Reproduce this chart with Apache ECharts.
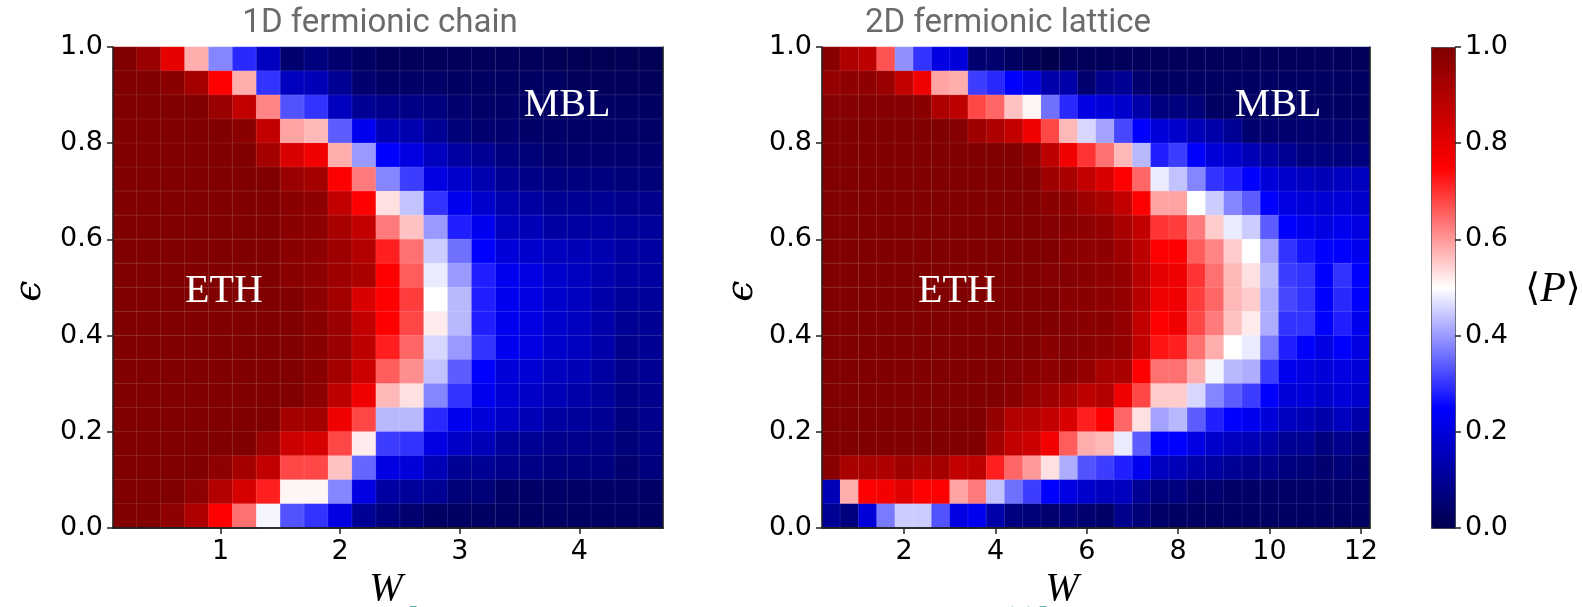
<!DOCTYPE html>
<html><head><meta charset="utf-8">
<script src="https://cdn.jsdelivr.net/npm/echarts@6/dist/echarts.min.js"></script>
<style>html,body{margin:0;padding:0;background:#fff}#c{width:1582px;height:607px}</style>
</head><body><div id="c"></div>
<script>
// ---------- DATA ----------
// disorder strength W (cell centres)
const W1 = [0.2,0.4,0.6,0.8,1.0,1.2,1.4,1.6,1.8,2.0,2.2,2.4,2.6,2.8,3.0,3.2,3.4,3.6,3.8,4.0,4.2,4.4,4.6];
const W2 = [0.4,0.8,1.2,1.6,2.0,2.4,2.8,3.2,3.6,4.0,4.4,4.8,5.2,5.6,6.0,6.4,6.8,7.2,7.6,8.0,8.4,8.8,9.2,9.6,10.0,10.4,10.8,11.2,11.6,12.0];
// energy density epsilon (cell centres, bottom -> top)
const EPS = [0.025,0.075,0.125,0.175,0.225,0.275,0.325,0.375,0.425,0.475,0.525,0.575,0.625,0.675,0.725,0.775,0.825,0.875,0.925,0.975];
// tick labels
const wTicks1 = [1,2,3,4];
const wTicks2 = [2,4,6,8,10,12];
const epsTicks = [0,0.2,0.4,0.6,0.8,1.0];
const cbTicks = [0,0.2,0.4,0.6,0.8,1.0];
// <P> for 1D chain, rows listed from top (eps=0.975) to bottom (eps=0.025)
const P1 = [
[1.00,0.95,0.80,0.58,0.38,0.29,0.16,0.05,0.07,0.05,0.03,0.02,0.02,0.02,0.02,0.02,0.02,0.02,0.01,0.01,0.01,0.01,0.01],
[1.00,1.00,0.98,0.93,0.75,0.58,0.30,0.16,0.15,0.10,0.05,0.04,0.04,0.04,0.03,0.03,0.03,0.03,0.03,0.02,0.02,0.02,0.02],
[1.00,1.00,1.00,1.00,0.95,0.87,0.62,0.33,0.30,0.16,0.10,0.09,0.08,0.07,0.05,0.04,0.04,0.03,0.03,0.03,0.03,0.03,0.03],
[1.00,1.00,1.00,1.00,1.00,0.98,0.87,0.59,0.57,0.34,0.23,0.15,0.14,0.10,0.06,0.05,0.05,0.04,0.04,0.04,0.04,0.04,0.04],
[1.00,1.00,1.00,1.00,1.00,1.00,0.93,0.82,0.78,0.58,0.40,0.25,0.21,0.16,0.12,0.10,0.07,0.06,0.05,0.05,0.05,0.05,0.05],
[1.00,1.00,1.00,1.00,1.00,1.00,1.00,0.95,0.93,0.75,0.63,0.38,0.31,0.21,0.18,0.14,0.10,0.08,0.07,0.07,0.07,0.06,0.06],
[1.00,1.00,1.00,1.00,1.00,1.00,1.00,0.98,0.97,0.87,0.75,0.53,0.44,0.30,0.23,0.18,0.14,0.12,0.10,0.10,0.10,0.09,0.09],
[1.00,1.00,1.00,1.00,1.00,1.00,1.00,0.98,0.97,0.92,0.87,0.63,0.56,0.40,0.28,0.23,0.16,0.15,0.12,0.12,0.12,0.11,0.11],
[1.00,1.00,1.00,1.00,1.00,1.00,1.00,0.98,0.97,0.94,0.90,0.72,0.64,0.45,0.36,0.25,0.20,0.18,0.16,0.15,0.14,0.12,0.12],
[1.00,1.00,1.00,1.00,1.00,1.00,1.00,0.98,0.97,0.94,0.92,0.75,0.66,0.48,0.40,0.28,0.23,0.21,0.18,0.16,0.14,0.12,0.12],
[1.00,1.00,1.00,1.00,1.00,1.00,1.00,1.00,0.97,0.93,0.82,0.75,0.69,0.50,0.43,0.28,0.23,0.21,0.18,0.16,0.13,0.11,0.11],
[1.00,1.00,1.00,1.00,1.00,1.00,1.00,1.00,0.98,0.95,0.87,0.75,0.68,0.52,0.43,0.28,0.23,0.21,0.18,0.16,0.13,0.10,0.10],
[1.00,1.00,1.00,1.00,1.00,1.00,1.00,1.00,0.98,0.95,0.88,0.72,0.65,0.46,0.40,0.30,0.23,0.21,0.18,0.16,0.13,0.09,0.10],
[1.00,1.00,1.00,1.00,1.00,1.00,1.00,1.00,0.98,0.93,0.85,0.66,0.61,0.44,0.34,0.25,0.20,0.19,0.16,0.15,0.12,0.09,0.10],
[1.00,1.00,1.00,1.00,1.00,1.00,1.00,1.00,0.97,0.88,0.78,0.57,0.53,0.38,0.30,0.23,0.19,0.17,0.15,0.13,0.11,0.08,0.09],
[1.00,1.00,1.00,1.00,1.00,1.00,1.00,0.93,0.93,0.78,0.68,0.43,0.43,0.29,0.23,0.20,0.17,0.15,0.12,0.11,0.10,0.07,0.09],
[1.00,1.00,1.00,1.00,1.00,1.00,0.95,0.85,0.83,0.68,0.52,0.31,0.30,0.21,0.17,0.15,0.11,0.10,0.09,0.09,0.08,0.06,0.08],
[1.00,1.00,1.00,1.00,0.97,0.93,0.87,0.68,0.68,0.56,0.35,0.21,0.20,0.15,0.10,0.10,0.09,0.08,0.07,0.07,0.07,0.05,0.07],
[1.00,1.00,1.00,0.97,0.90,0.83,0.72,0.51,0.51,0.38,0.21,0.12,0.11,0.10,0.06,0.06,0.04,0.04,0.04,0.04,0.04,0.04,0.04],
[1.00,1.00,0.97,0.91,0.75,0.64,0.49,0.33,0.30,0.21,0.10,0.07,0.05,0.03,0.03,0.03,0.03,0.03,0.03,0.03,0.03,0.03,0.03]
];
// <P> for 2D lattice, rows listed from top (eps=0.975) to bottom (eps=0.025)
const P2 = [
[0.98,0.91,0.88,0.67,0.39,0.30,0.21,0.20,0.05,0.05,0.03,0.01,0.00,0.02,0.02,0.02,0.02,0.02,0.02,0.02,0.02,0.02,0.02,0.02,0.02,0.02,0.02,0.02,0.02,0.02],
[0.96,0.97,0.97,0.95,0.87,0.78,0.59,0.58,0.31,0.29,0.25,0.21,0.13,0.13,0.05,0.09,0.10,0.05,0.03,0.03,0.03,0.03,0.03,0.03,0.03,0.03,0.03,0.03,0.03,0.03],
[0.99,0.99,0.99,0.99,0.99,0.98,0.91,0.88,0.68,0.65,0.56,0.51,0.36,0.29,0.21,0.20,0.18,0.13,0.07,0.07,0.06,0.03,0.03,0.03,0.03,0.03,0.03,0.03,0.03,0.03],
[1.00,1.00,1.00,1.00,1.00,1.00,1.00,0.99,0.94,0.91,0.87,0.78,0.68,0.57,0.46,0.41,0.32,0.25,0.20,0.18,0.15,0.13,0.10,0.05,0.05,0.05,0.05,0.05,0.05,0.05],
[1.00,1.00,1.00,1.00,1.00,1.00,1.00,1.00,1.00,1.00,1.00,0.97,0.88,0.78,0.70,0.64,0.57,0.43,0.28,0.31,0.25,0.20,0.18,0.15,0.12,0.10,0.07,0.07,0.07,0.07],
[1.00,1.00,1.00,1.00,1.00,1.00,1.00,1.00,1.00,1.00,1.00,1.00,0.94,0.92,0.87,0.82,0.75,0.65,0.48,0.44,0.38,0.30,0.28,0.25,0.20,0.18,0.16,0.15,0.16,0.16],
[1.00,1.00,1.00,1.00,1.00,1.00,1.00,1.00,1.00,1.00,1.00,1.00,0.98,0.97,0.94,0.92,0.87,0.75,0.59,0.59,0.50,0.45,0.38,0.34,0.25,0.21,0.20,0.19,0.20,0.18],
[1.00,1.00,1.00,1.00,1.00,1.00,1.00,1.00,1.00,1.00,1.00,1.00,0.99,0.98,0.97,0.96,0.92,0.87,0.70,0.69,0.63,0.55,0.48,0.45,0.34,0.25,0.23,0.21,0.23,0.21],
[1.00,1.00,1.00,1.00,1.00,1.00,1.00,1.00,1.00,1.00,1.00,1.00,1.00,0.98,0.97,0.97,0.94,0.88,0.75,0.75,0.66,0.62,0.55,0.50,0.41,0.30,0.27,0.25,0.25,0.23],
[1.00,1.00,1.00,1.00,1.00,1.00,1.00,1.00,1.00,1.00,1.00,1.00,0.99,0.99,0.98,0.97,0.96,0.89,0.80,0.78,0.70,0.64,0.57,0.53,0.43,0.31,0.30,0.25,0.30,0.25],
[1.00,1.00,1.00,1.00,1.00,1.00,1.00,1.00,1.00,1.00,1.00,1.00,1.00,0.98,0.98,0.97,0.96,0.89,0.78,0.78,0.69,0.65,0.57,0.55,0.42,0.32,0.30,0.25,0.29,0.25],
[1.00,1.00,1.00,1.00,1.00,1.00,1.00,1.00,1.00,1.00,1.00,1.00,1.00,0.99,0.98,0.98,0.96,0.87,0.75,0.78,0.68,0.63,0.56,0.52,0.42,0.30,0.30,0.25,0.28,0.23],
[1.00,1.00,1.00,1.00,1.00,1.00,1.00,1.00,1.00,1.00,1.00,1.00,0.98,0.99,0.98,0.97,0.96,0.87,0.73,0.72,0.64,0.58,0.50,0.48,0.37,0.28,0.25,0.21,0.25,0.21],
[1.00,1.00,1.00,1.00,1.00,1.00,1.00,1.00,1.00,1.00,0.99,0.98,0.97,0.98,0.96,0.92,0.92,0.75,0.64,0.64,0.58,0.49,0.43,0.42,0.31,0.23,0.21,0.20,0.21,0.20],
[1.00,1.00,1.00,1.00,1.00,1.00,1.00,1.00,1.00,1.00,0.98,0.96,0.94,0.92,0.88,0.90,0.78,0.68,0.55,0.55,0.46,0.38,0.34,0.31,0.25,0.20,0.20,0.18,0.20,0.18],
[1.00,1.00,1.00,1.00,1.00,1.00,1.00,1.00,1.00,0.96,0.90,0.90,0.87,0.82,0.72,0.75,0.65,0.53,0.41,0.43,0.34,0.28,0.25,0.23,0.20,0.16,0.15,0.13,0.16,0.13],
[1.00,1.00,1.00,1.00,1.00,1.00,1.00,1.00,1.00,0.93,0.87,0.85,0.77,0.66,0.58,0.57,0.48,0.34,0.25,0.25,0.21,0.18,0.16,0.15,0.13,0.10,0.10,0.07,0.09,0.07],
[0.98,0.92,0.92,0.91,0.94,0.92,0.93,0.87,0.88,0.72,0.65,0.60,0.53,0.42,0.33,0.31,0.28,0.23,0.16,0.15,0.13,0.12,0.10,0.09,0.09,0.07,0.06,0.05,0.06,0.05],
[0.15,0.58,0.75,0.77,0.81,0.75,0.75,0.59,0.63,0.44,0.36,0.31,0.25,0.21,0.18,0.16,0.16,0.10,0.07,0.07,0.05,0.05,0.04,0.04,0.04,0.04,0.04,0.04,0.04,0.04],
[0.10,0.07,0.20,0.37,0.45,0.45,0.33,0.21,0.23,0.13,0.07,0.06,0.05,0.06,0.05,0.04,0.09,0.06,0.04,0.03,0.03,0.03,0.03,0.03,0.03,0.03,0.03,0.03,0.03,0.03]
];

// ---------- CHART ----------
function toCells(rows){
  const out = [];
  rows.forEach((row, r) => {
    const yi = rows.length - 1 - r;
    row.forEach((v, c) => out.push([c, yi, v]));
  });
  return out;
}
const AX = '#222';
const lineStyle = {color: AX, width: 1.5};
const tickFont = {fontFamily: 'DejaVu Sans', fontSize: 27, color: '#000'};
const hiddenCat = (grid, data, pos) => ({
  gridIndex: grid, type: 'category', data: data, position: pos, z: 10,
  axisLine: {show: true, lineStyle: lineStyle}, axisTick: {show: false},
  axisLabel: {show: false}, splitLine: {show: false}, splitArea: {show: false}
});
const valX = (grid, min, max, ticks) => ({
  gridIndex: grid, type: 'value', min: min, max: max, position: 'bottom', z: 10,
  axisLine: {show: true, onZero: false, lineStyle: lineStyle},
  axisTick: {show: true, customValues: ticks, length: 6, lineStyle: lineStyle},
  axisLabel: Object.assign({customValues: ticks, margin: 10}, tickFont),
  splitLine: {show: false}
});
const valY = (grid, ticks, pos, showLine) => ({
  gridIndex: grid, type: 'value', min: 0, max: 1, position: pos, z: 10,
  axisLine: {show: showLine, onZero: false, lineStyle: lineStyle},
  axisTick: {show: true, customValues: ticks, length: 6, lineStyle: lineStyle},
  axisLabel: Object.assign({customValues: ticks, margin: 10, formatter: v => v.toFixed(1)}, tickFont),
  splitLine: {show: false}
});
const cellStyle = {borderColor: 'rgba(255,255,255,0.13)', borderWidth: 0.8};
const serif = "'Liberation Serif', 'Times New Roman', serif";
const ctr = {textAlign: 'center', textVerticalAlign: 'middle'};

const option = {
  animation: false,
  backgroundColor: '#fff',
  grid: [
    {left: 113, top: 47, width: 550, height: 481},
    {left: 822, top: 47, width: 548, height: 481},
    {left: 1431, top: 47, width: 24, height: 481}
  ],
  xAxis: [
    hiddenCat(0, W1, 'top'),
    valX(0, 0.1, 4.7, wTicks1),
    hiddenCat(1, W2, 'top'),
    valX(1, 0.2, 12.2, wTicks2),
    {gridIndex: 2, type: 'value', min: 0, max: 1, show: false}
  ],
  yAxis: [
    hiddenCat(0, EPS, 'right'),
    valY(0, epsTicks, 'left', true),
    hiddenCat(1, EPS, 'right'),
    valY(1, epsTicks, 'left', true),
    valY(2, cbTicks, 'right', false)
  ],
  visualMap: {
    type: 'continuous', min: 0, max: 1, seriesIndex: [0, 1], dimension: 2,
    orient: 'vertical', left: 1431, top: 47, itemWidth: 24, itemHeight: 481,
    calculable: false, showLabel: false, padding: 0, hoverLink: false,
    borderColor: '#333', borderWidth: 1,
    inRange: {color: ['#00004d', '#0000ff', '#ffffff', '#ff0000', '#800000']}
  },
  series: [
    {type: 'heatmap', xAxisIndex: 0, yAxisIndex: 0, data: toCells(P1), itemStyle: cellStyle, emphasis: {disabled: true}},
    {type: 'heatmap', xAxisIndex: 2, yAxisIndex: 2, data: toCells(P2), itemStyle: cellStyle, emphasis: {disabled: true}}
  ],
  graphic: [
    {type: 'text', x: 380, y: 24, style: Object.assign({text: '1D fermionic chain', font: '33px Roboto', fill: '#6b6b6b'}, ctr)},
    {type: 'text', x: 1008, y: 24, style: Object.assign({text: '2D fermionic lattice', font: '33px Roboto', fill: '#6b6b6b'}, ctr)},
    {type: 'text', x: 224, y: 291, z: 20, style: Object.assign({text: 'ETH', font: '40px ' + serif, fill: '#fff'}, ctr)},
    {type: 'text', x: 957, y: 291, z: 20, style: Object.assign({text: 'ETH', font: '40px ' + serif, fill: '#fff'}, ctr)},
    {type: 'text', x: 567, y: 105, z: 20, style: Object.assign({text: 'MBL', font: '40px ' + serif, fill: '#fff'}, ctr)},
    {type: 'text', x: 1278, y: 105, z: 20, style: Object.assign({text: 'MBL', font: '40px ' + serif, fill: '#fff'}, ctr)},
    {type: 'text', x: 386, y: 589, style: Object.assign({text: 'W', font: 'italic 40px ' + serif, fill: '#000'}, ctr)},
    {type: 'text', x: 1062, y: 589, style: Object.assign({text: 'W', font: 'italic 40px ' + serif, fill: '#000'}, ctr)},
    {type: 'text', x: 30, y: 291, rotation: Math.PI / 2, style: Object.assign({text: 'ϵ', font: "italic 38px 'DejaVu Serif'", fill: '#000'}, ctr)},
    {type: 'text', x: 742, y: 291, rotation: Math.PI / 2, style: Object.assign({text: 'ϵ', font: "italic 38px 'DejaVu Serif'", fill: '#000'}, ctr)},
    {type: 'text', x: 1553, y: 290, style: Object.assign({
      text: '{a|⟨}{b|P}{a|⟩}',
      rich: {a: {font: "38px 'DejaVu Serif'", fill: '#000'}, b: {font: 'italic 42px ' + serif, fill: '#000'}}
    }, ctr)},
    {type: 'text', x: 412, y: 609, style: {text: '[', font: '36px Roboto', fill: '#1a9a8c', textAlign: 'center', textVerticalAlign: 'top'}},
    {type: 'text', x: 1008, y: 609, style: {text: '(', font: '36px Roboto', fill: '#1a9a8c', textAlign: 'center', textVerticalAlign: 'top'}},
    {type: 'text', x: 1038, y: 609, style: {text: ')]', font: '36px Roboto', fill: '#1a9a8c', textAlign: 'center', textVerticalAlign: 'top'}}
  ]
};
const chart = echarts.init(document.getElementById('c'));
chart.setOption(option);
</script>
</body></html>
